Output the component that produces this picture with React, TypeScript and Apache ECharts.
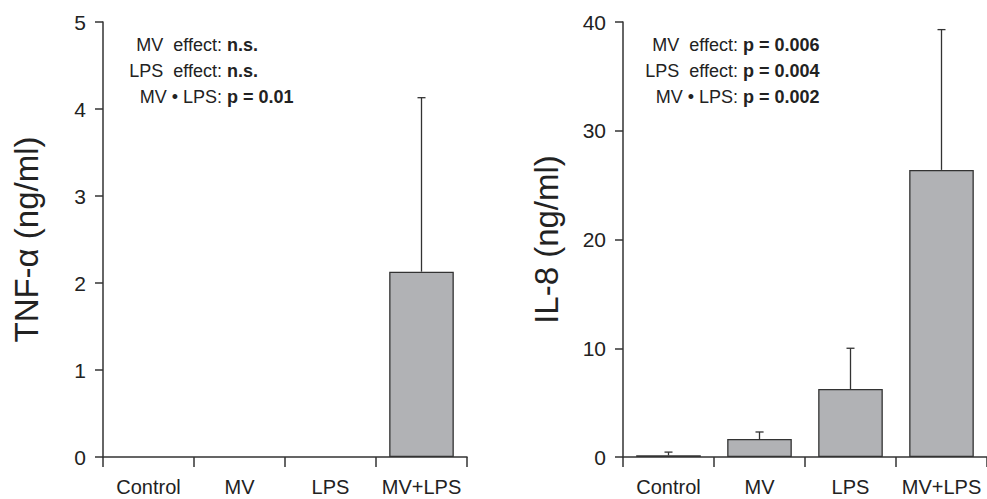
import React, { useEffect, useRef } from "react";
import * as echarts from "echarts";

const categories = ["Control", "MV", "LPS", "MV+LPS"];
const tnfMean = [0, 0, 0, 2.13];
const tnfErr = [0, 0, 0, 2.0];
const il8Mean = [0.15, 1.65, 6.25, 26.4];
const il8Err = [0.3, 0.65, 3.75, 12.9];
const effectLabels = ["MV  effect:", "LPS  effect:", "MV • LPS:"];
const tnfStats = ["n.s.", "n.s.", "p = 0.01"];
const il8Stats = ["p = 0.006", "p = 0.004", "p = 0.002"];

const FONT = "'Liberation Sans', Arial, Helvetica, sans-serif";
const INK = "#222";
const LINE = "#333";

function errorRender(params: any, api: any) {
  const i = api.value(0);
  const m = api.value(1);
  const e = api.value(2);
  if (!e) return null;
  const base = api.coord([i, m]);
  const top = api.coord([i, m + e]);
  const style = { stroke: LINE, lineWidth: 1.3 };
  return {
    type: "group",
    children: [
      { type: "line", shape: { x1: base[0], y1: base[1], x2: top[0], y2: top[1] }, style },
      { type: "line", shape: { x1: top[0] - 4, y1: top[1], x2: top[0] + 4, y2: top[1] }, style },
    ],
  };
}

function annotations(colonX: number, stats: string[]) {
  const els: any[] = [];
  const ys = [45, 71, 97];
  effectLabels.forEach((t, k) => {
    els.push({
      type: "text",
      x: colonX,
      y: ys[k],
      style: {
        text: t,
        align: "right",
        textAlign: "right",
        verticalAlign: "middle",
        textVerticalAlign: "middle",
        fontSize: 18,
        fontFamily: FONT,
        fill: INK,
      },
    });
    els.push({
      type: "text",
      x: colonX + 5,
      y: ys[k],
      style: {
        text: stats[k],
        align: "left",
        textAlign: "left",
        verticalAlign: "middle",
        textVerticalAlign: "middle",
        fontSize: 18,
        fontWeight: "bold",
        fontFamily: FONT,
        fill: INK,
      },
    });
  });
  return els;
}

const barData = (vals: number[]) =>
  vals.map((v) => (v === 0 ? { value: v, itemStyle: { borderWidth: 0, opacity: 0 } } : v));

export default function App() {
  const ref = useRef<HTMLDivElement>(null);
  useEffect(() => {
    document.body.style.margin = "0";
    const chart = echarts.init(ref.current!, undefined, { renderer: "svg" });
    const xAxisBase = (gridIndex: number) => ({
      type: "category",
      gridIndex,
      data: categories,
      axisLine: { lineStyle: { color: LINE, width: 1.5 } },
      axisTick: { show: true, length: 10, lineStyle: { color: LINE, width: 1.5 } },
      axisLabel: { color: INK, fontSize: 20, fontFamily: FONT, margin: 20, interval: 0 },
    });
    const yAxisBase = (gridIndex: number, name: string, max: number, interval: number) => ({
      type: "value",
      gridIndex,
      min: 0,
      max,
      interval,
      name,
      nameLocation: "middle",
      nameGap: 60,
      nameTextStyle: { color: INK, fontSize: 33, fontFamily: FONT },
      splitLine: { show: false },
      axisLine: { show: true, lineStyle: { color: LINE, width: 1.5 } },
      axisTick: { show: true, length: 8, lineStyle: { color: LINE, width: 1.5 } },
      axisLabel: { color: INK, fontSize: 21, fontFamily: FONT, margin: 17 },
    });
    const barStyle = { color: "#b1b2b5", borderColor: LINE, borderWidth: 1.3 };
    chart.setOption({
      animation: false,
      grid: [
        { left: 103, top: 22, width: 364, height: 435 },
        { left: 623, top: 22, width: 364, height: 435 },
      ],
      xAxis: [xAxisBase(0), xAxisBase(1)],
      yAxis: [
        yAxisBase(0, "TNF-α (ng/ml)", 5, 1),
        yAxisBase(1, "IL-8 (ng/ml)", 40, 10),
      ],
      series: [
        { type: "bar", xAxisIndex: 0, yAxisIndex: 0, data: barData(tnfMean), barWidth: "71%", itemStyle: barStyle },
        { type: "bar", xAxisIndex: 1, yAxisIndex: 1, data: barData(il8Mean), barWidth: "71%", itemStyle: barStyle },
        {
          type: "custom",
          xAxisIndex: 0,
          yAxisIndex: 0,
          renderItem: errorRender,
          encode: { x: 0, y: 1 },
          data: categories.map((_, i) => [i, tnfMean[i], tnfErr[i]]),
          z: 5,
        },
        {
          type: "custom",
          xAxisIndex: 1,
          yAxisIndex: 1,
          renderItem: errorRender,
          encode: { x: 0, y: 1 },
          data: categories.map((_, i) => [i, il8Mean[i], il8Err[i]]),
          z: 5,
        },
      ],
      graphic: [...annotations(222, tnfStats), ...annotations(738, il8Stats)],
    });
    return () => chart.dispose();
  }, []);
  return <div ref={ref} style={{ width: 987, height: 499 }} />;
}
